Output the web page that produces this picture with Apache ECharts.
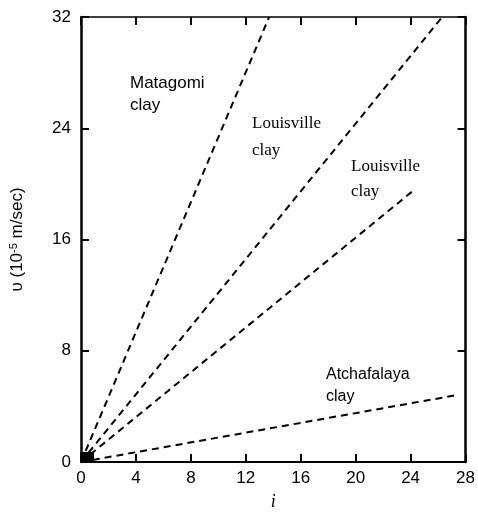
<!DOCTYPE html>
<html><head><meta charset="utf-8">
<script src="https://cdn.jsdelivr.net/npm/echarts@6/dist/echarts.min.js"></script>
<style>html,body{margin:0;padding:0;background:#fff}#c{width:478px;height:517px}</style>
</head><body><div id="c"></div>
<script>
const xTicks = [0, 4, 8, 12, 16, 20, 24, 28];
const yTicks = [0, 8, 16, 24, 32];
const seriesNames = ['Matagomi clay', 'Louisville clay (upper)', 'Louisville clay (lower)', 'Atchafalaya clay'];
const matagomi = [[0, 0], [13.7, 32]];
const louisvilleUpper = [[0, 0], [26.3, 32]];
const louisvilleLower = [[0, 0], [24.3, 19.6]];
const atchafalaya = [[0, 0], [27.3, 4.8]];

const chart = echarts.init(document.getElementById('c'));
const font = 'Liberation Sans';
function axis(extra, lineWidth) {
  return Object.assign({
    type: 'value', min: 0,
    axisLine: { show: true, onZero: false, lineStyle: { color: '#000', width: lineWidth } },
    axisTick: { show: true, inside: true, length: 8, lineStyle: { color: '#000', width: 2 } },
    splitLine: { show: false }
  }, extra);
}
function lineSeries(name, data) {
  return { name, type: 'line', data, showSymbol: false, symbol: 'none',
    lineStyle: { color: '#000', width: 2, type: [7, 5] }, z: 3 };
}
chart.setOption({
  animation: false,
  grid: { left: 80, right: 11, top: 17, bottom: 55 },
  xAxis: [
    axis({ max: 28, interval: 4, position: 'bottom',
      axisLabel: { color: '#000', fontFamily: font, fontSize: 17, fontWeight: 500, margin: 8 },
      name: 'i', nameLocation: 'middle', nameGap: 31,
      nameTextStyle: { color: '#000', fontFamily: 'Liberation Serif', fontStyle: 'italic', fontSize: 18 } }, 2),
    axis({ max: 28, interval: 4, position: 'top', axisLabel: { show: false } }, 1.5)
  ],
  yAxis: [
    axis({ max: 32, interval: 8, position: 'left',
      axisLabel: { color: '#000', fontFamily: font, fontSize: 17, fontWeight: 500, margin: 10 },
      name: '{a|υ (10}{s|-5}{a| m/sec)}', nameLocation: 'middle', nameGap: 54, nameRotate: 90,
      nameTextStyle: { rich: {
        a: { color: '#000', fontFamily: font, fontSize: 17 },
        s: { color: '#000', fontFamily: font, fontSize: 11, verticalAlign: 'top', padding: [0, 0, 8, 0] }
      } } }, 2.5),
    axis({ max: 32, interval: 8, position: 'right', axisLabel: { show: false } }, 2.5)
  ],
  series: [
    lineSeries(seriesNames[0], matagomi),
    lineSeries(seriesNames[1], louisvilleUpper),
    lineSeries(seriesNames[2], louisvilleLower),
    lineSeries(seriesNames[3], atchafalaya)
  ],
  graphic: [
    { type: 'rect', shape: { x: 80, y: 452, width: 14, height: 10 }, style: { fill: '#000' } },
    { type: 'text', left: 130, top: 72, style: { text: 'Matagomi\nclay', fill: '#000', font: '17px "Liberation Sans"', lineHeight: 22 } },
    { type: 'text', left: 252, top: 110, style: { text: 'Louisville\nclay', fill: '#000', font: '17px "Liberation Serif"', lineHeight: 27 } },
    { type: 'text', left: 351, top: 154, style: { text: 'Louisville\nclay', fill: '#000', font: '17px "Liberation Serif"', lineHeight: 25 } },
    { type: 'text', left: 326, top: 364, style: { text: 'Atchafalaya\nclay', fill: '#000', font: '16px "Liberation Sans"', lineHeight: 22 } }
  ]
});
</script></body></html>
